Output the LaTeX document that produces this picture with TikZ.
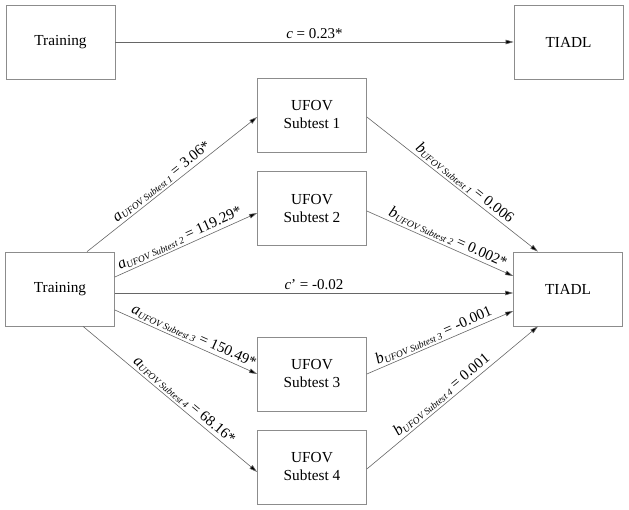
\documentclass[tikz,border=0pt]{standalone}
\usepackage{fontspec}
\setmainfont{Liberation Serif}
\usetikzlibrary{arrows.meta,calc}
\newcommand{\pathlab}[3]{{\fontsize{16}{16}\selectfont\itshape #1}{\fontsize{9.5}{10}\selectfont\itshape\raisebox{-2pt}{UFOV Subtest #2}} = #3}
\begin{document}
\begin{tikzpicture}[x=1pt,y=-1pt,
  box/.style={draw=black!45,line width=0.7pt,minimum width=109pt,minimum height=74pt,inner sep=0pt,align=center,font=\fontsize{15.3}{18}\selectfont},
  path/.style={draw=black!60,line width=0.6pt,-{Triangle[length=8pt,width=4.5pt,fill=black]}},
  lab/.style={sloped,above,inner sep=2pt,font=\fontsize{15}{17}\selectfont}]
\useasboundingbox (0,0) rectangle (629,510);
% top model
\node[box] (T0) at (60.5,42) {Training};
\node[box] (Y0) at (568.5,42) {TIADL};
\draw[path] (T0.east) -- node[lab,pos=0.5,inner sep=3pt] {\textit{c} = 0.23*} (Y0.west);
% mediation model
\node[box] (T) at (60,289) {Training};
\node[box] (Y) at (568,289) {TIADL};
\node[box] (U1) at (312,115) {UFOV\\Subtest 1};
\node[box] (U2) at (312,208.5) {UFOV\\Subtest 2};
\node[box] (U3) at (312,374) {UFOV\\Subtest 3};
\node[box] (U4) at (312,467) {UFOV\\Subtest 4};
% a paths
\draw[path] ($(T.north)+(27,0)$) -- node[lab,pos=0.47] {\pathlab{a}{1}{3.06*}} ($(U1.west)+(0,2)$);
\draw[path] ($(T.east)+(0,-12)$) -- node[lab,pos=0.48] {\pathlab{a}{2}{119.29*}} ($(U2.west)+(0,4.5)$);
\draw[path] ($(T.east)+(0,21)$) -- node[lab,pos=0.53] {\pathlab{a}{3}{150.49*}} (U3.west);
\draw[path] ($(T.south)+(23,0)$) -- node[lab,pos=0.55] {\pathlab{a}{4}{68.16*}} ($(U4.west)+(0,5)$);
% c'
\draw[path] ($(T.east)+(0,4)$) -- node[lab,pos=0.5,inner sep=3pt] {\textit{c}’ = -0.02} ($(Y.west)+(0,4)$);
% b paths
\draw[path] ($(U1.east)+(0,2)$) -- node[lab,pos=0.54] {\pathlab{b}{1}{0.006}} ($(Y.north)+(-30,0)$);
\draw[path] ($(U2.east)+(0,2.5)$) -- node[lab,pos=0.53] {\pathlab{b}{2}{0.002*}} ($(Y.west)+(0,-13)$);
\draw[path] (U3.east) -- node[lab,pos=0.48] {\pathlab{b}{3}{-0.001}} ($(Y.west)+(0,22)$);
\draw[path] ($(U4.east)+(0,2)$) -- node[lab,pos=0.47] {\pathlab{b}{4}{0.001}} ($(Y.south)+(-30,0)$);
\end{tikzpicture}
\end{document}
